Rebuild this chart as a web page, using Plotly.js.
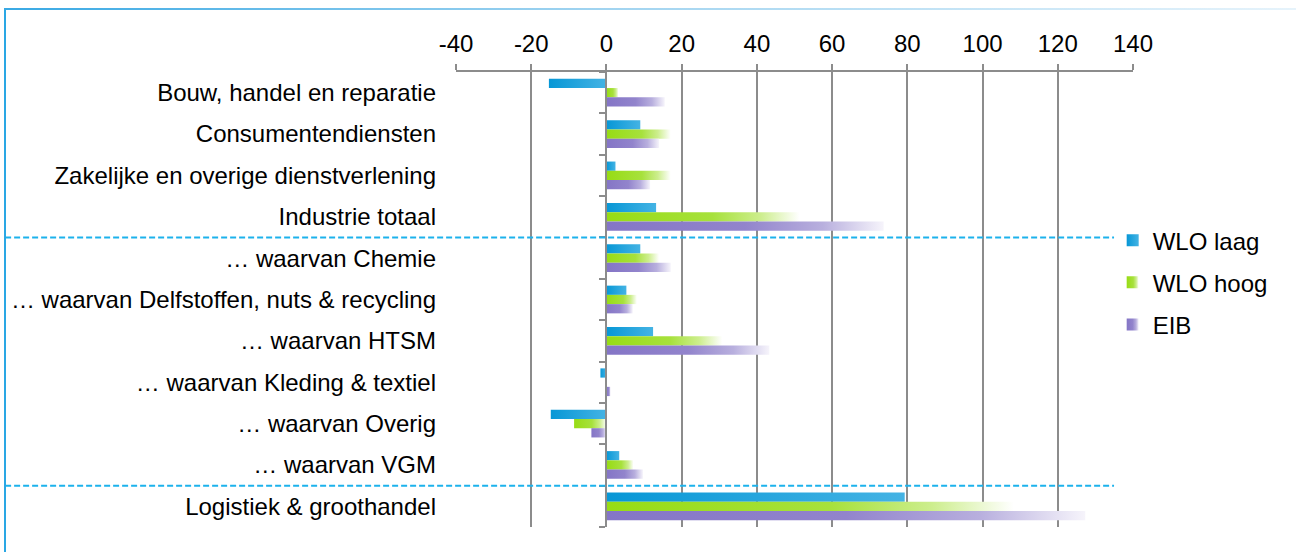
<!DOCTYPE html>
<html>
<head>
<meta charset="utf-8">
<script src="https://cdn.plot.ly/plotly-3.0.1.min.js"></script>
<style>
  html, body { margin: 0; padding: 0; background: #fff; }
  #wrap { position: relative; width: 1296px; height: 552px; }
  #chart { width: 1296px; height: 552px; }
  /* chart frame: solid left edge, top edge fading out to the right */
  #frame-left { position: absolute; left: 4px; top: 8px; width: 2px; height: 544px; background: #2aa7e4; pointer-events: none; }
  #frame-top { position: absolute; left: 4px; top: 8px; width: 1292px; height: 2px;
    background: linear-gradient(to right, #39a9e4 0%, #9fd3f0 45%, #e6f3fb 100%); pointer-events: none; }
</style>
</head>
<body>
<div id="wrap">
  <div id="chart"></div>
  <div id="frame-left"></div>
  <div id="frame-top"></div>
</div>
<script>
// Sectors, top to bottom
const categories = [
  'Bouw, handel en reparatie',
  'Consumentendiensten',
  'Zakelijke en overige dienstverlening',
  'Industrie totaal',
  '… waarvan Chemie',
  '… waarvan Delfstoffen, nuts & recycling',
  '… waarvan HTSM',
  '… waarvan Kleding & textiel',
  '… waarvan Overig',
  '… waarvan VGM',
  'Logistiek & groothandel'
];

// Scenario values per sector
const wloLaag = [-15.3, 9.0, 2.4, 13.2, 9.0, 5.3, 12.4, -1.6, -14.8, 3.4, 79.3];
const wloHoog = [3.2, 17.1, 17.1, 51.3, 14.0, 8.1, 30.8, 0, -8.6, 7.2, 108.3];
const eib     = [15.5, 14.0, 11.6, 73.7, 17.1, 7.0, 43.3, 1.1, -4.0, 9.7, 127.3];

const seriesNames = ['WLO laag', 'WLO hoog', 'EIB'];

// Value axis ticks
const xTicks = [-40, -20, 0, 20, 40, 60, 80, 100, 120, 140];
const xTickLabels = ['-40', '-20', '0', '20', '40', '60', '80', '100', '120', '140'];

// Dashed separators are drawn below these sectors
const separatorsAfter = ['Industrie totaal', '… waarvan VGM'];

// Horizontal fills: left to right across each bar
const gradients = [
  [[0, '#0797d6'], [1, '#44b3e4']],
  [[0, '#97dc14'], [0.55, '#a7e13c'], [0.8, '#cdee8e'], [1, '#ffffff']],
  [[0, '#8475c6'], [0.5, '#9284cc'], [0.78, '#b8afde'], [1, '#f6f4fb']]
];

const n = categories.length;
const xRange = [xTicks[0], xTicks[xTicks.length - 1]];
const yRange = [n - 0.5, -0.5];
const boundaries = [];
for (let i = 0; i <= n; i++) boundaries.push(i - 0.5);

const FONT = 'Liberation Sans, Arial, sans-serif';
const GREY = '#8c8c8c';

const values = [wloLaag, wloHoog, eib];
const solid = ['#1aa3dc', '#9bdc1e', '#8a7cc8'];

const traces = values.map((v, i) => ({
  type: 'bar',
  orientation: 'h',
  name: seriesNames[i],
  legendgroup: 'g' + i,
  x: v,
  y: categories,
  marker: { color: solid[i], line: { width: 0 } },
  hoverinfo: 'x+name'
}));

// carrier for the axis that runs along the zero value
traces.push({
  type: 'scatter', x: [0], y: [0], yaxis: 'y2', mode: 'none',
  showlegend: false, hoverinfo: 'skip'
});

// separator lines in paper coordinates
const shapes = separatorsAfter.map(name => {
  const b = categories.indexOf(name) + 0.5;
  const py = (yRange[0] - b) / (yRange[0] - yRange[1]);
  return {
    type: 'line', xref: 'paper', yref: 'paper',
    x0: -0.666, x1: 0.972, y0: py, y1: py,
    line: { color: '#1cb2ec', width: 2, dash: '6px,3px' }
  };
});

const layout = {
  width: 1296,
  height: 552,
  margin: { l: 456, r: 163, t: 72, b: 25 },
  paper_bgcolor: '#ffffff',
  plot_bgcolor: '#ffffff',
  font: { family: FONT, size: 24, color: '#000000' },
  barmode: 'group',
  bargap: 0.33,
  bargroupgap: 0,
  showlegend: true,
  legend: {
    x: 0.97, xanchor: 'left',
    y: 0.679, yanchor: 'top',
    traceorder: 'grouped',
    tracegroupgap: 8,
    bgcolor: 'rgba(0,0,0,0)',
    font: { family: FONT, size: 24, color: '#000000' }
  },
  xaxis: {
    side: 'top',
    range: xRange,
    tickmode: 'array',
    tickvals: xTicks,
    ticktext: xTickLabels,
    showgrid: true,
    gridcolor: GREY,
    gridwidth: 2,
    zeroline: false,
    showline: true,
    linecolor: GREY,
    linewidth: 2,
    ticks: 'outside',
    ticklen: 6,
    tickwidth: 2,
    tickcolor: GREY,
    ticklabelstandoff: 2,
    tickfont: { family: FONT, size: 24, color: '#000000' },
    fixedrange: true
  },
  yaxis: {
    type: 'category',
    categoryorder: 'array',
    categoryarray: categories,
    range: yRange,
    showgrid: false,
    zeroline: false,
    showline: false,
    ticks: '',
    ticklabelstandoff: 19,
    tickfont: { family: FONT, size: 24, color: '#000000' },
    fixedrange: true
  },
  yaxis2: {
    type: 'linear',
    overlaying: 'y',
    anchor: 'free',
    position: (0 - xRange[0]) / (xRange[1] - xRange[0]),
    range: yRange,
    tickmode: 'array',
    tickvals: boundaries,
    showticklabels: false,
    ticks: 'outside',
    ticklen: 6,
    tickwidth: 2,
    tickcolor: GREY,
    showline: true,
    linecolor: GREY,
    linewidth: 2,
    showgrid: false,
    zeroline: false,
    fixedrange: true
  },
  shapes: shapes
};

const SVGNS = 'http://www.w3.org/2000/svg';

function ensureGradients(gd) {
  const svg = gd.querySelector('svg.main-svg');
  if (!svg) return;
  let defs = svg.querySelector('defs');
  if (!defs) {
    defs = document.createElementNS(SVGNS, 'defs');
    svg.insertBefore(defs, svg.firstChild);
  }
  gradients.forEach((stops, i) => {
    const id = 'bar-fill-' + i;
    if (svg.querySelector('#' + id)) return;
    const lg = document.createElementNS(SVGNS, 'linearGradient');
    lg.setAttribute('id', id);
    lg.setAttribute('x1', '0'); lg.setAttribute('y1', '0');
    lg.setAttribute('x2', '1'); lg.setAttribute('y2', '0');
    stops.forEach(([off, col]) => {
      const st = document.createElementNS(SVGNS, 'stop');
      st.setAttribute('offset', off);
      st.setAttribute('stop-color', col);
      lg.appendChild(st);
    });
    defs.appendChild(lg);
  });
}

function paintBars(gd) {
  ensureGradients(gd);
  gd.querySelectorAll('.barlayer .trace.bars').forEach((g, i) => {
    g.querySelectorAll('path').forEach(p => { p.style.fill = 'url(#bar-fill-' + i + ')'; });
  });
  gd.querySelectorAll('.legend .traces').forEach((g, i) => {
    g.querySelectorAll('.legendpoints path').forEach(p => { p.style.fill = 'url(#bar-fill-' + i + ')'; });
  });
}

const gd = document.getElementById('chart');
Plotly.newPlot(gd, traces, layout, { displayModeBar: false, staticPlot: true }).then(() => {
  paintBars(gd);
  gd.on('plotly_afterplot', () => paintBars(gd));
});
</script>
</body>
</html>
